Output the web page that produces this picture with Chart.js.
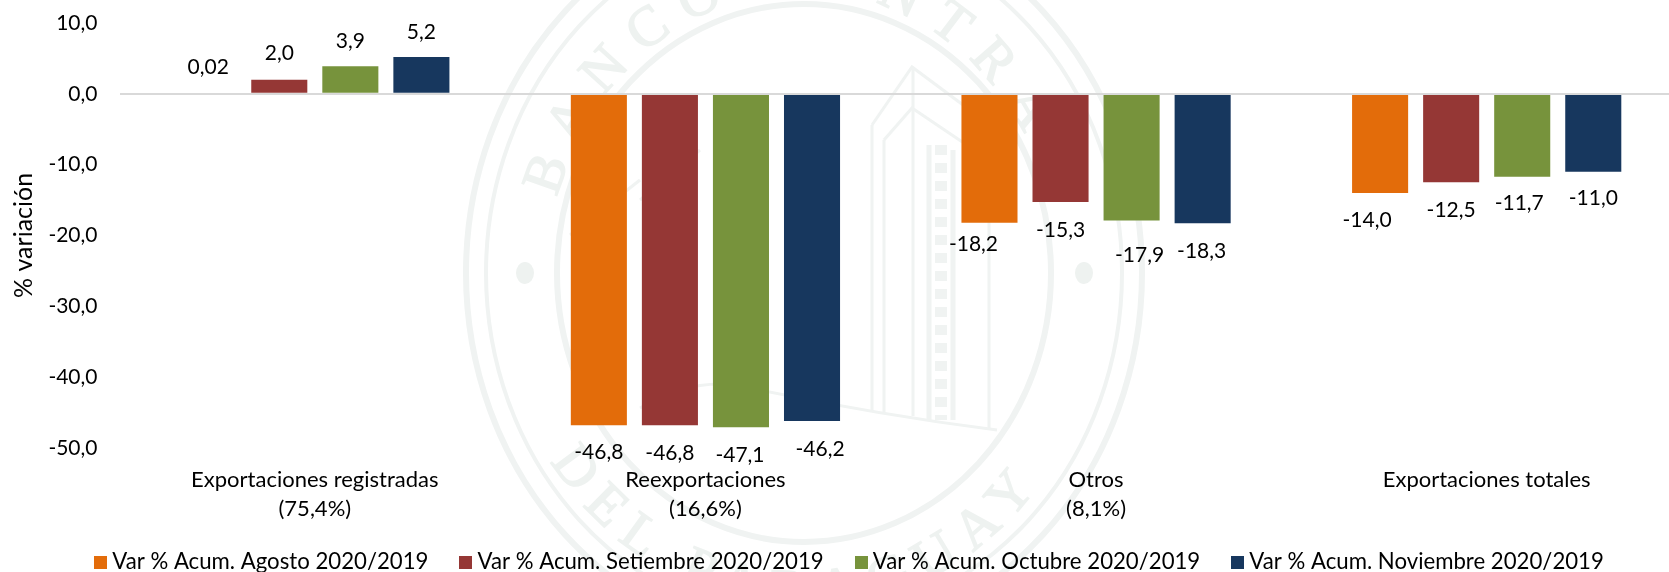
<!DOCTYPE html>
<html lang="es">
<head>
<meta charset="utf-8">
<style>
html,body{margin:0;padding:0;background:#fff;overflow:hidden}
#stage{position:relative;width:1669px;height:572px;overflow:hidden;background:#fff}
#seal{position:absolute;left:0;top:0}
#c{position:absolute;left:0;top:0}
</style>
</head>
<body>
<div id="stage">
<svg id="seal" width="1669" height="572" viewBox="0 0 1669 572" fill="none" stroke="#f0f3f2">
  <defs>
    <path id="arcTop" d="M 548 273 A 255 281 0 0 1 1058 273"/>
    <path id="arcBot" d="M 498 273 A 305 335 0 0 0 1108 273"/>
  </defs>
  <ellipse cx="804" cy="273" rx="338" ry="370" stroke-width="6"/>
  <ellipse cx="804" cy="273" rx="318" ry="349" stroke-width="4"/>
  <ellipse cx="804" cy="273" rx="247" ry="269" stroke-width="6"/>
  <ellipse cx="525" cy="273" rx="9" ry="11" fill="#eef2f0" stroke="none"/>
  <ellipse cx="1084" cy="273" rx="9" ry="11" fill="#eef2f0" stroke="none"/>
  <g fill="#eef2f0" stroke="#eef2f0" stroke-width="1.5" font-family="Liberation Serif" font-size="56">
    <text letter-spacing="17" text-anchor="middle"><textPath href="#arcTop" startOffset="50%">BANCO CENTRAL</textPath></text>
    <text letter-spacing="14" text-anchor="middle"><textPath href="#arcBot" startOffset="49%">DEL PARAGUAY</textPath></text>
  </g>
  <g stroke-width="3">
    <path d="M872 125 L912 67 L990 125"/>
    <path d="M884 140 L912 108 L989 160"/>
    <path d="M872 125 V412 M884 140 V414 M913 67 V416 M989 150 V430"/>
    <path d="M640 408 Q700 372 760 390 Q880 415 997 430"/>
    <path d="M640 200 L700 150 M570 235 L640 180"/>
  </g>
  <g stroke-width="5">
    <path d="M929 145 V420 M953 150 V420"/>
    <path d="M929 145 V420" stroke-dasharray="10 8" transform="translate(12 0)" stroke-width="12"/>
  </g>
</svg>
<canvas id="c" width="1682" height="595"></canvas>
</div>
<script src="https://cdn.jsdelivr.net/npm/chart.js@4/dist/chart.umd.min.js"></script>
<script>
const categories = [
  ["Exportaciones registradas", "(75,4%)"],
  ["Reexportaciones", "(16,6%)"],
  ["Otros", "(8,1%)"],
  ["Exportaciones totales"]
];
const seriesNames = [
  "Var % Acum. Agosto 2020/2019",
  "Var % Acum. Setiembre 2020/2019",
  "Var % Acum. Octubre 2020/2019",
  "Var % Acum. Noviembre 2020/2019"
];
const agosto = [0.02, -46.8, -18.2, -14.0];
const setiembre = [2.0, -46.8, -15.3, -12.5];
const octubre = [3.9, -47.1, -17.9, -11.7];
const noviembre = [5.2, -46.2, -18.3, -11.0];
const seriesColors = ["#E36C0A", "#953735", "#77933C", "#17375E"];
const yTicks = [-50, -40, -30, -20, -10, 0, 10];

// hand-placed data-label nudges [dx, dy] from the end of each bar
const labelNudges = [
  [[0,-26],[0,27],[-16,22],[-13,27]],
  [[0,-26],[0,28],[0,28],[0,28]],
  [[0,-25],[-1,28],[8,35],[-3,27]],
  [[0,-25],[8,28],[-1,28],[0,27]]
];

const FONT = "Lato";
const TEXT = "#000000";
const fmt = v => v.toFixed(Math.abs(v) < 0.1 && v !== 0 ? 2 : 1).replace(".", ",");

function swatch(color) {
  const c = document.createElement("canvas");
  c.width = 13; c.height = 13;
  const g = c.getContext("2d");
  g.fillStyle = color;
  g.fillRect(0, 0, 13, 13);
  return c;
}

const dataLabels = {
  id: "dataLabels",
  afterDatasetsDraw(chart) {
    const ctx = chart.ctx;
    ctx.save();
    ctx.font = "21px " + FONT;
    ctx.fillStyle = TEXT;
    ctx.textAlign = "center";
    ctx.textBaseline = "middle";
    chart.data.datasets.forEach((ds, i) => {
      chart.getDatasetMeta(i).data.forEach((bar, j) => {
        const n = labelNudges[i][j];
        ctx.fillText(fmt(ds.data[j]), bar.x + n[0], bar.y + n[1]);
      });
    });
    ctx.restore();
  }
};

const legendPlace = {
  id: "legendPlace",
  afterLayout(chart) {
    const l = chart.legend;
    l.top = 514;
    l.left = 11;
    l.right = 1693;
  }
};

const allSeries = [agosto, setiembre, octubre, noviembre];
new Chart(document.getElementById("c"), {
  type: "bar",
  plugins: [dataLabels, legendPlace],
  data: {
    labels: categories,
    datasets: allSeries.map((d, i) => ({
      label: seriesNames[i],
      data: d,
      // a sub-pixel bar (0,02) shows no visible mark in the reference
      backgroundColor: c => Math.abs(c.raw) < 0.1 ? "transparent" : seriesColors[i],
      borderWidth: 0,
      pointStyle: swatch(seriesColors[i]),
      categoryPercentage: 0.7276,
      barPercentage: 0.789
    }))
  },
  options: {
    responsive: false,
    animation: false,
    devicePixelRatio: 1,
    layout: { padding: { top: 23, right: 0, left: 0, bottom: 0 } },
    plugins: {
      tooltip: { enabled: false },
      legend: {
        position: "bottom",
        labels: {
          font: { family: FONT, size: 22.2 },
          color: TEXT,
          usePointStyle: true,
          pointStyleWidth: 1,
          boxHeight: 13,
          padding: 37
        }
      }
    },
    scales: {
      x: {
        grid: { display: false, drawTicks: false },
        border: { display: false },
        afterFit: s => { s.height = 78; },
        ticks: {
          autoSkip: false, maxRotation: 0, color: TEXT, padding: 17.5,
          font: { family: FONT, size: 22, lineHeight: 1.32 }
        }
      },
      y: {
        min: -50, max: 10,
        afterFit: s => { s.width = 119.5; s.paddingTop = 0; s.paddingBottom = 0; },
        border: { display: false },
        grid: {
          drawTicks: false,
          z: 1,
          lineWidth: c => c.tick.value === 0 ? 2 : 0,
          color: "#D9D9D9"
        },
        afterBuildTicks: s => { s.ticks = yTicks.map(v => ({ value: v })); },
        title: {
          display: true, text: "% variación", color: TEXT,
          font: { family: FONT, size: 25 }, padding: { top: 9, bottom: 0 }
        },
        ticks: {
          color: TEXT, padding: 22,
          font: { family: FONT, size: 21 },
          callback: v => fmt(v)
        }
      }
    }
  }
});
</script>
</body>
</html>
